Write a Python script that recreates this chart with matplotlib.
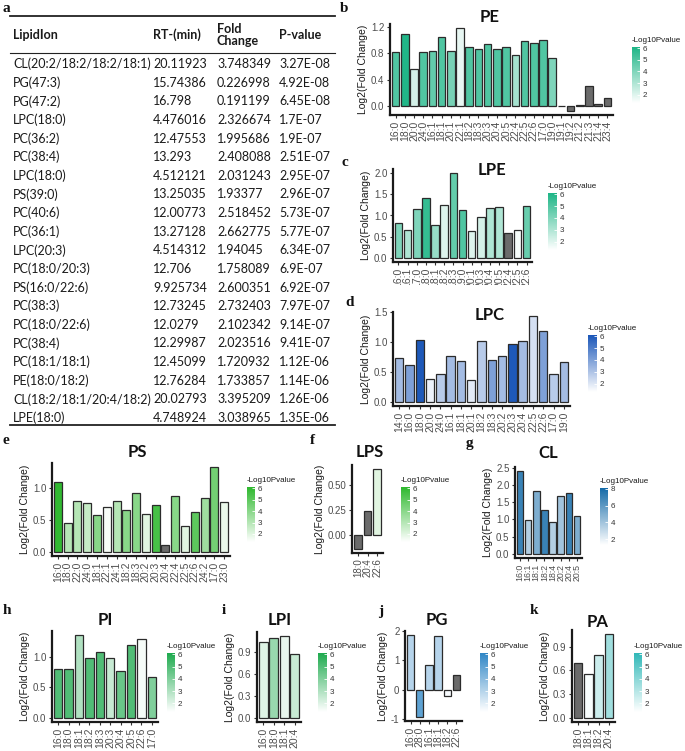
import numpy as np
import matplotlib.pyplot as plt
from matplotlib.colors import LinearSegmentedColormap, Normalize
from matplotlib.cm import ScalarMappable
from matplotlib.patches import Rectangle

W, H = 685, 751
nan = np.nan
GREY = "#6b6b6b"
plt.rcParams["font.family"] = ["Liberation Sans", "DejaVu Sans"]

# ---- panel a: table ----
lipid_ion = ["CL(20:2/18:2/18:2/18:1)", "PG(47:3)", "PG(47:2)", "LPC(18:0)", "PC(36:2)",
             "PC(38:4)", "LPC(18:0)", "PS(39:0)", "PC(40:6)", "PC(36:1)", "LPC(20:3)",
             "PC(18:0/20:3)", "PS(16:0/22:6)", "PC(38:3)", "PC(18:0/22:6)", "PC(38:4)",
             "PC(18:1/18:1)", "PE(18:0/18:2)", "CL(18:2/18:1/20:4/18:2)", "LPE(18:0)"]
rt_min = ["20.11923", "15.74386", "16.798", "4.476016", "12.47553", "13.293", "4.512121",
          "13.25035", "12.00773", "13.27128", "4.514312", "12.706", "9.925734", "12.73245",
          "12.0279", "12.29987", "12.45099", "12.76284", "20.02793", "4.748924"]
fold_change = ["3.748349", "0.226998", "0.191199", "2.326674", "1.995686", "2.408088",
               "2.031243", "1.93377", "2.518452", "2.662775", "1.94045", "1.758089",
               "2.600351", "2.732403", "2.102342", "2.023516", "1.720932", "1.733857",
               "3.395209", "3.038965"]
p_value = ["3.27E-08", "4.92E-08", "6.45E-08", "1.7E-07", "1.9E-07", "2.51E-07", "2.95E-07",
           "2.96E-07", "5.73E-07", "5.77E-07", "6.34E-07", "6.9E-07", "6.92E-07", "7.97E-07",
           "9.14E-07", "9.41E-07", "1.12E-06", "1.14E-06", "1.26E-06", "1.35E-06"]

# ---- bar panels: log2 fold change, -log10 p (nan = not significant, grey) ----
pe_lipids = ["16:0", "18:0", "20:0", "24:0", "16:1", "18:1", "20:1", "22:1", "18:2", "18:3",
             "20:3", "20:4", "20:5", "22:4", "22:5", "22:6", "17:0", "19:0", "19:1", "19:2",
             "21:2", "21:3", "21:4", "23:4"]
pe_log2fc = [0.82, 1.09, 0.56, 0.82, 0.83, 1.05, 0.84, 1.18, 0.89, 0.87, 0.94, 0.86, 0.89,
             0.77, 0.98, 0.95, 1.00, 0.73, 0.005, -0.07, 0.02, 0.30, 0.04, 0.13]
pe_nlogp = [5.0, 6.0, 2.2, 5.0, 4.6, 5.0, 4.2, 1.8, 5.0, 5.0, 5.0, 5.0, 5.0, 3.2, 5.0, 5.0,
            5.0, 4.0, nan, nan, nan, nan, nan, nan]

lpe_lipids = ["16:0", "16:1", "17:0", "18:0", "18:1", "18:2", "18:3", "19:0", "20:1", "20:3",
              "20:4", "20:5", "22:4", "22:5", "22:6"]
lpe_log2fc = [0.83, 0.65, 1.15, 1.41, 0.78, 1.24, 2.0, 1.13, 0.64, 0.96, 1.17, 1.19, 0.58,
              0.65, 1.23]
lpe_nlogp = [4.0, 3.0, 4.0, 5.6, 3.5, 2.0, 4.6, 5.0, 2.0, 2.2, 3.0, 3.0, nan, 1.5, 4.5]

lpc_lipids = ["14:0", "16:0", "18:0", "20:0", "24:0", "16:1", "18:1", "20:1", "18:2", "18:3",
              "20:2", "20:3", "20:4", "22:5", "22:6", "17:0", "19:0"]
lpc_log2fc = [0.74, 0.61, 1.04, 0.38, 0.47, 0.76, 0.68, 0.36, 1.01, 0.69, 0.76, 0.96, 1.02,
              1.43, 1.18, 0.46, 0.66]
lpc_nlogp = [3.2, 4.0, 6.0, 1.7, 2.8, 3.2, 3.2, 1.9, 2.8, 4.0, 3.2, 6.0, 3.2, 2.2, 4.0, 2.8, 3.2]

ps_lipids = ["16:0", "18:0", "22:0", "24:0", "18:1", "22:1", "24:1", "18:2", "18:3", "20:2",
             "20:3", "20:4", "22:4", "22:5", "22:6", "24:2", "17:0", "23:0"]
ps_log2fc = [1.10, 0.45, 0.80, 0.76, 0.58, 0.71, 0.80, 0.65, 0.93, 0.60, 0.73, 0.11, 0.87,
             0.41, 0.62, 0.85, 1.33, 0.78]
ps_nlogp = [6.0, 3.0, 3.0, 2.6, 4.0, 1.5, 3.0, 4.0, 4.0, 2.0, 5.5, nan, 4.0, 2.0, 5.0, 3.5,
            4.5, 1.8]

lps_lipids = ["18:0", "20:4", "22:6"]
lps_log2fc = [-0.14, 0.24, 0.66]
lps_nlogp = [nan, nan, 2.0]

cl_lipids = ["16:0", "16:1", "18:1", "18:2", "18:4", "20:2", "20:4", "20:5"]
cl_log2fc = [2.40, 0.98, 1.81, 1.26, 0.92, 1.67, 1.76, 1.09]
cl_nlogp = [7.0, 3.5, 5.0, 7.0, 3.5, 4.0, 7.0, 5.0]

pi_lipids = ["16:0", "18:0", "18:1", "18:2", "18:3", "20:3", "20:4", "20:5", "22:6", "17:0"]
pi_log2fc = [0.80, 0.80, 1.36, 0.99, 1.08, 0.99, 0.77, 1.20, 1.29, 0.67]
pi_nlogp = [5.0, 5.0, 3.0, 5.0, 5.0, 2.5, 4.5, 5.0, 1.5, 4.0]

lpi_lipids = ["16:0", "18:0", "18:1", "20:4"]
lpi_log2fc = [1.04, 1.10, 1.12, 0.87]
lpi_nlogp = [2.0, 3.5, 1.8, 2.5]

pg_lipids = ["16:0", "28:0", "16:1", "18:1", "18:2", "22:6"]
pg_log2fc = [1.86, -0.92, 0.86, 1.82, -0.21, 0.52]
pg_nlogp = [3.0, 5.0, 3.0, 3.0, 1.5, nan]

pa_lipids = ["18:0", "18:1", "18:2", "20:4"]
pa_log2fc = [0.70, 0.55, 0.79, 1.06]
pa_nlogp = [nan, 1.5, 2.5, 3.5]


def px_rect(l, t, r, b):
    return [l / W, 1 - b / H, (r - l) / W, (b - t) / H]


def bar_panel(fig, rect, lipids, log2fc, nlogp, high, yticks, ylabels, cbar, cticks,
              vmax=6.1, xfs=7.5):
    ax = fig.add_axes(px_rect(*rect))
    cmap = LinearSegmentedColormap.from_list("grad", ["white", high])
    norm = Normalize(1.3, vmax)
    colors = [GREY if np.isnan(v) else cmap(norm(v)) for v in nlogp]
    x = np.arange(len(lipids))
    ax.bar(x, log2fc, width=0.82, color=colors, edgecolor="#2b2b2b", linewidth=0.9, zorder=2)
    lo, hi = min(0, min(log2fc)), max(0, max(log2fc))
    pad = 0.05 * (hi - lo)
    ax.set_ylim(lo - pad, hi + pad)
    ax.set_xlim(-0.6, len(lipids) - 0.4)
    ax.set_xticks(x)
    ax.set_xticklabels(lipids, rotation=90, fontsize=xfs, color="#4d4d4d")
    ax.set_yticks(yticks)
    ax.set_yticklabels(ylabels, fontsize=7, color="#4d4d4d")
    ax.tick_params(length=2.5, width=0.8, color="#333333", pad=1.5)
    for s in ["top", "right"]:
        ax.spines[s].set_visible(False)
    for s in ["left", "bottom"]:
        ax.spines[s].set_linewidth(1.6)
        ax.spines[s].set_color("#1a1a1a")
    ax.set_facecolor("none")
    ax.set_ylabel("Log2(Fold Change)", fontsize=7.5, color="#1a1a1a", labelpad=2)

    cax = fig.add_axes(px_rect(*cbar))
    cb = fig.colorbar(ScalarMappable(norm=norm, cmap=cmap), cax=cax, ticks=cticks)
    cb.outline.set_visible(False)
    cax.tick_params(axis="y", direction="in", length=2, width=0.6, color="white",
                    labelsize=5.8, labelcolor="#333333", pad=2)
    fig.text(cbar[0] / W, 1 - (cbar[1] - 3) / H, "-Log10Pvalue", fontsize=5.8,
             color="#1a1a1a", va="bottom")
    return ax


fig = plt.figure(figsize=(W / 100, H / 100), dpi=100)

bar_panel(fig, (390, 24, 613, 115), pe_lipids, pe_log2fc, pe_nlogp, "#1DB586",
          [0, 0.4, 0.8, 1.2], ["0.0", "0.4", "0.8", "1.2"], (632, 47, 640, 103), [2, 3, 4, 5, 6])
bar_panel(fig, (393, 169, 532, 262), lpe_lipids, lpe_log2fc, lpe_nlogp, "#1DB586",
          [0, 0.5, 1.0, 1.5, 2.0], ["0.0", "0.5", "1.0", "1.5", "2.0"], (548, 193, 557, 250),
          [2, 3, 4, 5, 6])
bar_panel(fig, (393, 312, 570, 406), lpc_lipids, lpc_log2fc, lpc_nlogp, "#1A56B8",
          [0, 0.5, 1.0, 1.5], ["0.0", "0.5", "1.0", "1.5"], (588, 335, 597, 392), [2, 3, 4, 5, 6])
bar_panel(fig, (52, 463, 230, 556), ps_lipids, ps_log2fc, ps_nlogp, "#2DB82D",
          [0, 0.5, 1.0], ["0.0", "0.5", "1.0"], (247, 487, 255, 542), [2, 3, 4, 5, 6])
bar_panel(fig, (352, 465, 383, 553), lps_lipids, lps_log2fc, lps_nlogp, "#2DB82D",
          [0, 0.25, 0.5], ["0.00", "0.25", "0.50"], (401, 487, 410, 542), [2, 3, 4, 5, 6],
          xfs=7)
bar_panel(fig, (515, 467, 582, 558), cl_lipids, cl_log2fc, cl_nlogp, "#136AA8",
          [0, 0.5, 1.0, 1.5, 2.0, 2.5], ["0.0", "0.5", "1.0", "1.5", "2.0", "2.5"],
          (600, 488, 608, 545), [2, 4, 6, 8], vmax=8.1, xfs=6.3)
bar_panel(fig, (52, 631, 158, 722), pi_lipids, pi_log2fc, pi_nlogp, "#1EAA4E",
          [0, 0.5, 1.0], ["0.0", "0.5", "1.0"], (167, 653, 175, 712), [2, 3, 4, 5, 6])
bar_panel(fig, (257, 632, 301, 722), lpi_lipids, lpi_log2fc, lpi_nlogp, "#1EAA4E",
          [0, 0.3, 0.6, 0.9], ["0.0", "0.3", "0.6", "0.9"], (318, 653, 327, 712), [2, 3, 4, 5, 6])
bar_panel(fig, (405, 631, 462, 721), pg_lipids, pg_log2fc, pg_nlogp, "#2F86C6",
          [-1, 0, 1, 2], ["-1", "0", "1", "2"], (480, 653, 488, 712), [2, 3, 4, 5, 6])
bar_panel(fig, (572, 630, 615, 722), pa_lipids, pa_log2fc, pa_nlogp, "#30B8B8",
          [0, 0.3, 0.6, 0.9], ["0.0", "0.3", "0.6", "0.9"], (634, 653, 642, 712), [2, 3, 4, 5, 6])

# overlay in pixel coordinates for the table, titles and panel letters
ov = fig.add_axes([0, 0, 1, 1])
ov.set_xlim(0, W)
ov.set_ylim(H, 0)
ov.axis("off")

# LPE tick labels are cut off by panel d in the original
ov.add_patch(Rectangle((380, 285), 160, 20, facecolor="white", edgecolor="none", zorder=5))

tfont = dict(family=["Lato", "DejaVu Sans"], fontsize=9, color="#1a1a1a", va="center")
col_x = [13, 153, 217, 279]
ov.text(col_x[0], 35, "LipidIon", weight="bold", **tfont)
ov.text(col_x[1], 35, "RT-(min)", weight="bold", **tfont)
ov.text(col_x[2], 35, "Fold\nChange", weight="bold", linespacing=1.05, **tfont)
ov.text(col_x[3], 35, "P-value", weight="bold", **tfont)
for i in range(len(lipid_ion)):
    y = 64 + i * 18.63
    for cx, val in zip(col_x, [lipid_ion[i], rt_min[i], fold_change[i], p_value[i]]):
        ov.text(cx, y, val, **tfont)
ov.plot([10, 335], [16, 16], color="#222222", lw=1.3)
ov.plot([10, 335], [53, 53], color="#222222", lw=0.8)
ov.plot([10, 335], [425, 425], color="#222222", lw=1.3)

titles = [("PE", 490, 17), ("LPE", 492, 170), ("LPC", 490, 315), ("PS", 137, 452),
          ("LPS", 370, 452), ("CL", 548, 453), ("PI", 105, 620), ("LPI", 280, 620),
          ("PG", 437, 620), ("PA", 598, 622)]
for t, x, y in titles:
    ov.text(x, y, t, family=["Lato", "DejaVu Sans"], weight="bold", fontsize=12,
            ha="center", va="center", color="#111111")

letters = [("a", 3, 8), ("b", 340, 8), ("c", 342, 163), ("d", 345, 302), ("e", 3, 441),
           ("f", 310, 441), ("g", 466, 443), ("h", 3, 611), ("i", 222, 611), ("j", 378, 611),
           ("k", 530, 611)]
for t, x, y in letters:
    ov.text(x, y, t, family=["Liberation Serif"], weight="bold", fontsize=11,
            ha="left", va="center", color="#111111")

fig.savefig("out.png", dpi=100)
